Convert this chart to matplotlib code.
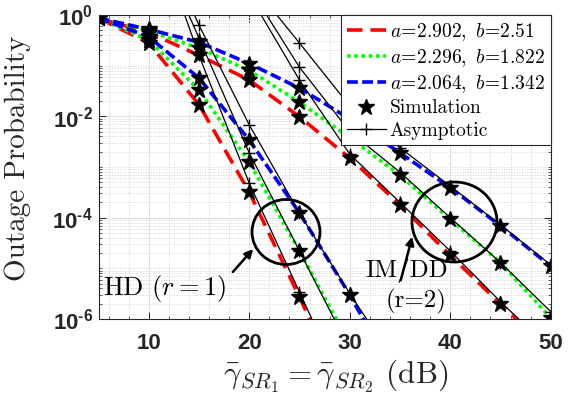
import matplotlib
matplotlib.use('Agg')
import matplotlib.pyplot as plt
from matplotlib.patches import Ellipse
from matplotlib.ticker import MultipleLocator, LogLocator, NullFormatter

# tick labels in bold sans, everything else in computer modern
plt.rcParams['mathtext.fontset'] = 'custom'
plt.rcParams['mathtext.rm'] = 'Liberation Sans:bold'
plt.rcParams['mathtext.it'] = 'Liberation Sans:bold'
plt.rcParams['mathtext.bf'] = 'Liberation Sans:bold'
plt.rcParams['axes.formatter.use_mathtext'] = True

# ---- data ----
snr_hd = [5, 10, 15, 20, 25, 30, 35]
hd_red = [0.87, 0.28, 1.7e-2, 3.2e-4, 2.7e-6, 2.0e-8, 1e-10]
hd_green = [0.87, 0.32, 3.3e-2, 1.25e-3, 2.2e-5, 3.2e-7, 4e-9]
hd_blue = [0.87, 0.37, 5.7e-2, 3.4e-3, 1.24e-4, 3.0e-6, 5e-8]

snr_im = [5, 10, 15, 20, 25, 30, 35, 40, 45, 50]
im_red = [0.86, 0.45, 0.16, 5.2e-2, 9.8e-3, 1.5e-3, 1.8e-4, 1.8e-5, 2.0e-6, 2.2e-7]
im_green = [0.87, 0.49, 0.22, 8.1e-2, 1.9e-2, 3.8e-3, 6.9e-4, 9.3e-5, 1.3e-5, 1.05e-6]
im_blue = [0.87, 0.52, 0.29, 0.11, 3.6e-2, 8.9e-3, 1.9e-3, 3.9e-4, 6.9e-5, 1.1e-5]

snr_hd_asym = [10, 15, 20, 25, 30, 35]
hd_red_asym = [100, 0.16, 4.8e-4, 3.4e-6, 2.4e-8, 1e-10]
hd_green_asym = [63, 0.35, 1.9e-3, 2.2e-5, 2.5e-7, 3e-9]
hd_blue_asym = [100, 0.63, 6.8e-3, 1.23e-4, 3.2e-6, 1e-7]

snr_im_asym = [20, 25, 30, 35, 40, 45, 50]
im_red_asym = [2.5, 5.2e-2, 1.8e-3, 2.0e-4, 2.2e-5, 2.2e-6, 2.5e-7]
im_green_asym = [3.5, 9.3e-2, 5e-3, 7.9e-4, 1.0e-4, 1.3e-5, 1.4e-6]
im_blue_asym = [4.7, 0.28, 1.6e-2, 2.4e-3, 4.2e-4, 7.2e-5, 1.17e-5]

labels = [r'$a\!=\!2.902,\ b\!=\!2.51$',
          r'$a\!=\!2.296,\ b\!=\!1.822$',
          r'$a\!=\!2.064,\ b\!=\!1.342$']
colors = ['#ff0000', '#00ff00', '#0000ff']
styles = [(0, (4.3, 2.2)), (0, (1, 1)), (0, (3, 1.2))]

fig = plt.figure(figsize=(5.81, 3.96), dpi=100)
ax = fig.add_axes([98.5 / 581, 1 - 319 / 396, 452.2 / 581, 304 / 396])
ax.set_yscale('log')

hd = [hd_red, hd_green, hd_blue]
im = [im_red, im_green, im_blue]
hd_as = [hd_red_asym, hd_green_asym, hd_blue_asym]
im_as = [im_red_asym, im_green_asym, im_blue_asym]

for i in range(3):
    ax.plot(snr_im, im[i], color=colors[i], ls=styles[i], lw=2.6, label=labels[i])
    ax.plot(snr_hd, hd[i], color=colors[i], ls=styles[i], lw=2.6)

for i in range(3):
    ax.plot(snr_hd_asym, hd_as[i], color='black', lw=0.9, marker='+', ms=9, mew=1)
    ax.plot(snr_im_asym, im_as[i], color='black', lw=0.9, marker='+', ms=9, mew=1,
            label='Asymptotic' if i == 0 else None)

for i in range(3):
    ax.plot(snr_im, im[i], ls='none', marker='*', ms=12, color='black',
            label='Simulation' if i == 0 else None)
    ax.plot(snr_hd, hd[i], ls='none', marker='*', ms=12, color='black')

ax.set_xlim(5, 50)
ax.set_ylim(1e-6, 1)

ax.set_xticks([10, 20, 30, 40, 50])
ax.set_xticklabels(['10', '20', '30', '40', '50'], fontsize=16,
                   fontweight='bold', family='Liberation Sans')
ax.xaxis.set_minor_locator(MultipleLocator(2))
ax.set_yticks([1, 1e-2, 1e-4, 1e-6])
ax.set_yticklabels([r'$10^{0}$', r'$10^{\text{-}2}$', r'$10^{\text{-}4}$',
                    r'$10^{\text{-}6}$'], fontsize=16)
ax.yaxis.set_minor_locator(LogLocator(base=10, subs=range(1, 10), numticks=20))
ax.yaxis.set_minor_formatter(NullFormatter())

ax.tick_params(which='both', direction='in', top=True, right=True, colors='#262626')
ax.tick_params(which='major', length=5, width=0.7)
ax.tick_params(which='minor', length=2.5, width=0.5)
ax.tick_params(axis='x', pad=10)
ax.tick_params(axis='y', pad=4)
ax.grid(which='major', color='#dedede', lw=0.7)
ax.grid(which='minor', color='#d2d2d2', ls=':', lw=0.7)
ax.set_axisbelow(True)
for s in ax.spines.values():
    s.set_color('#262626')
    s.set_linewidth(0.8)

# legend order: three curves, Simulation, Asymptotic
h, l = ax.get_legend_handles_labels()
order = [l.index(labels[0]), l.index(labels[1]), l.index(labels[2]),
         l.index('Simulation'), l.index('Asymptotic')]
leg = ax.legend([h[k] for k in order], [l[k] for k in order], loc='upper right',
                borderaxespad=0, fancybox=False, framealpha=1, edgecolor='#262626',
                handlelength=2.0, labelspacing=0.22, borderpad=0.3,
                handletextpad=0.2, prop={'family': 'cmr10', 'size': 14})
leg.get_frame().set_linewidth(0.8)
for t in leg.get_texts():
    t.set_math_fontfamily('cm')

# axis labels
fig.text(18 / 581, 1 - 158 / 396, 'Outage Probability', rotation=90, ha='center',
         va='center', fontsize=21, family='cmr10', color='#262626')
fig.text(336 / 581, 1 - 376 / 396, r'$\bar{\gamma}_{SR_1}=\bar{\gamma}_{SR_2}$ (dB)',
         ha='center', va='center', fontsize=22.5, family='cmr10', math_fontfamily='cm',
         color='#262626')

# circles and notes (figure pixels, origin bottom-left)
H = 396
fig.add_artist(Ellipse((2.86, (H - 232) / 100), 0.68, 0.65, transform=fig.dpi_scale_trans,
                       fill=False, lw=2, ec='black'))
fig.add_artist(Ellipse((4.545, (H - 222) / 100), 0.85, 0.80, transform=fig.dpi_scale_trans,
                       fill=False, lw=2, ec='black'))
ax.annotate('', xy=(255, H - 247), xycoords='figure pixels', xytext=(231, H - 274),
            textcoords='figure pixels',
            arrowprops=dict(arrowstyle='-|>', color='black', lw=1.8, mutation_scale=12))
ax.annotate('', xy=(413, H - 234), xycoords='figure pixels', xytext=(400, H - 283),
            textcoords='figure pixels',
            arrowprops=dict(arrowstyle='-|>', color='black', lw=1.8, mutation_scale=12))
fig.text(103 / 581, 1 - 288 / H, r'HD $(r=1)$', ha='left', va='center', fontsize=19,
         family='cmr10', math_fontfamily='cm')
fig.text(448 / 581, 1 - 271 / H, 'IM/DD', ha='right', va='center', fontsize=18,
         family='cmr10')
fig.text(447 / 581, 1 - 301 / H, '(r=2)', ha='right', va='center', fontsize=18,
         family='cmr10')

fig.savefig('out.png', dpi=100)
